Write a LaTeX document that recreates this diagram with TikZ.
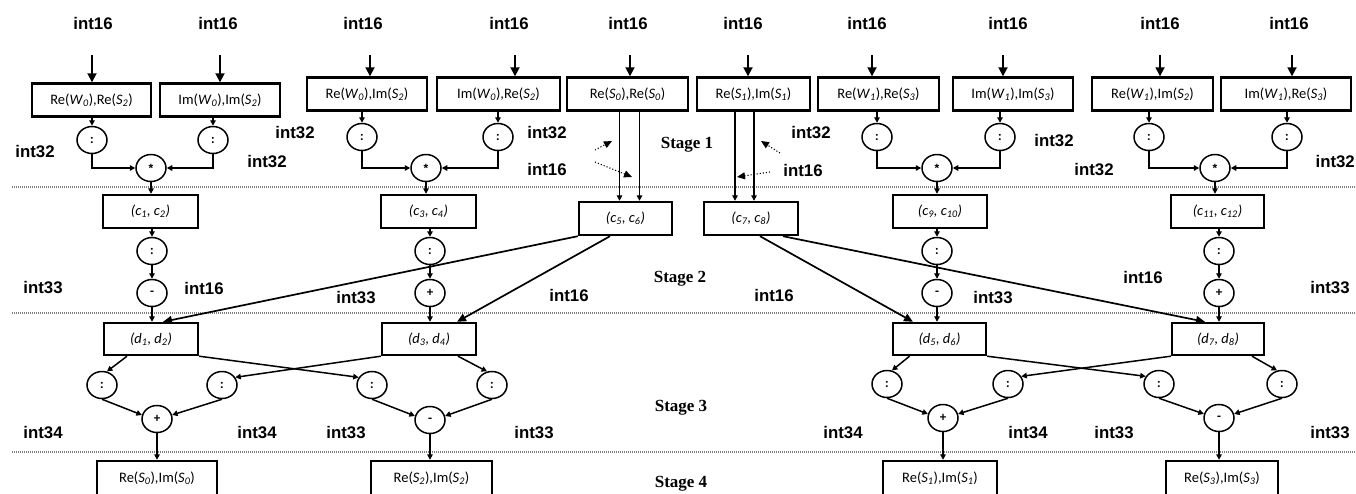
\documentclass[tikz,border=0pt]{standalone}
\usepackage{fontspec}
\setmainfont{Carlito}
\newfontfamily\labfont{Liberation Sans}
\newfontfamily\stagefont{Liberation Serif}
\usetikzlibrary{arrows.meta,shapes.geometric}
\newcommand\VV[2]{\textit{#1}\textsubscript{\textit{#2}}}
\newcommand\CC[2]{\textit{(#1, #2)}}
\newcommand\mulsym{{\labfont\bfseries\fontsize{12}{12}\selectfont\raisebox{-0.28em}{*}}}
\tikzset{
 lbl/.style={font=\labfont\bfseries\fontsize{16.8}{18}\selectfont, inner sep=0},
 stg/.style={font=\stagefont\bfseries\fontsize{17}{19}\selectfont, inner sep=0},
 bx/.style={draw, line width=2.4pt, minimum height=33pt, inner sep=0, font=\fontsize{14.5}{16}\selectfont},
 opn/.style={draw, ellipse, line width=1.5pt, minimum width=30pt, minimum height=27pt, inner sep=0, font=\bfseries\fontsize{13}{14}\selectfont},
 arr/.style={line width=1.5pt, -{Triangle[length=5.5pt,width=5.5pt]}},
 toparr/.style={line width=1.8pt, -{Triangle[length=9pt,width=9pt]}},
 bigarr/.style={line width=1.7pt, -{Triangle[length=9pt,width=8pt]}},
 dotarr/.style={line width=1.1pt, dotted, -{Triangle[length=8pt,width=7pt]}},
 sepline/.style={gray, line width=1.3pt, dash pattern=on 1pt off 1pt},
}
\begin{document}
\begin{tikzpicture}[x=1pt,y=-1pt]
\fill[white] (0,0) rectangle (1356,493);
\useasboundingbox (0,0) rectangle (1356,493);

% separators
\draw[sepline] (12,187) -- (1356,187);
\draw[sepline] (12,313) -- (1356,313);
\draw[sepline] (12,452) -- (1356,452);

% top labels
\foreach \x/\n in {93/1,218/2,363/3,509/4,628/5,743/6,867/7,1008/8,1160/9,1289/10}
  \node[lbl] (t\n) at (\x,23) {int16};

% top boxes
\node[bx, minimum width=119pt] (b1) at (91.5,100) {Re(\VV{W}{0}),Re(\VV{S}{2})};
\node[bx, minimum width=120pt] (b2) at (220,100) {Im(\VV{W}{0}),Im(\VV{S}{2})};
\node[bx, minimum width=120pt] (b3) at (367,94) {Re(\VV{W}{0}),Im(\VV{S}{2})};
\node[bx, minimum width=123pt] (b4) at (498.5,94) {Im(\VV{W}{0}),Re(\VV{S}{2})};
\node[bx, minimum width=121pt] (b5) at (627.5,94) {Re(\VV{S}{0}),Re(\VV{S}{0})};
\node[bx, minimum width=113pt] (b6) at (753.5,94) {Re(\VV{S}{1}),Im(\VV{S}{1})};
\node[bx, minimum width=121pt] (b7) at (878.5,94) {Re(\VV{W}{1}),Re(\VV{S}{3})};
\node[bx, minimum width=120pt] (b8) at (1013,94) {Im(\VV{W}{1}),Im(\VV{S}{3})};
\node[bx, minimum width=121pt] (b9) at (1152.5,94) {Re(\VV{W}{1}),Im(\VV{S}{2})};
\node[bx, minimum width=130pt] (b10) at (1286,94) {Im(\VV{W}{1}),Re(\VV{S}{3})};

% top arrows
\foreach \x/\n in {92/1,220/2,370/3,515/4,630/5,748/6,872/7,1003/8,1160/9,1292/10}{
  \coordinate (a\n) at (\x,55);
  \draw[toparr] (a\n) -- (a\n |- b\n.north);
}

% stage 1 circles
\node[opn] (s1a) at (92,140) {:};
\node[opn] (s1b) at (213,140) {:};
\node[opn] (m1) at (151,168) {\mulsym};
\node[opn] (s1c) at (362,137) {:};
\node[opn] (s1d) at (498,137) {:};
\node[opn] (m2) at (426,168) {\mulsym};
\node[opn] (s1e) at (877,137) {:};
\node[opn] (s1f) at (1000,137) {:};
\node[opn] (m3) at (937,168) {\mulsym};
\node[opn] (s1g) at (1149,137) {:};
\node[opn] (s1h) at (1287,137) {:};
\node[opn] (m4) at (1215,168) {\mulsym};

\draw[arr] (s1a.north |- b1.south) -- (s1a.north);
\draw[arr] (s1b.north |- b2.south) -- (s1b.north);
\draw[arr] (s1c.north |- b3.south) -- (s1c.north);
\draw[arr] (s1d.north |- b4.south) -- (s1d.north);
\draw[arr] (s1e.north |- b7.south) -- (s1e.north);
\draw[arr] (s1f.north |- b8.south) -- (s1f.north);
\draw[arr] (s1g.north |- b9.south) -- (s1g.north);
\draw[arr] (s1h.north |- b10.south) -- (s1h.north);

\draw[arr] (s1a.south) |- (m1.west);
\draw[arr] (s1b.south) |- (m1.east);
\draw[arr] (s1c.south) |- (m2.west);
\draw[arr] (s1d.south) |- (m2.east);
\draw[arr] (s1e.south) |- (m3.west);
\draw[arr] (s1f.south) |- (m3.east);
\draw[arr] (s1g.south) |- (m4.west);
\draw[arr] (s1h.south) |- (m4.east);

% c boxes
\node[bx, minimum width=95pt] (c12) at (150.5,211.5) {\CC{c\textsubscript{1}}{c\textsubscript{2}}};
\node[bx, minimum width=95pt] (c34) at (428.5,211.5) {\CC{c\textsubscript{3}}{c\textsubscript{4}}};
\node[bx, minimum width=93pt] (c56) at (625.5,218.5) {\CC{c\textsubscript{5}}{c\textsubscript{6}}};
\node[bx, minimum width=94pt] (c78) at (751,218.5) {\CC{c\textsubscript{7}}{c\textsubscript{8}}};
\node[bx, minimum width=94pt] (c910) at (940,211.5) {\CC{c\textsubscript{9}}{c\textsubscript{10}}};
\node[bx, minimum width=93pt] (c1112) at (1217.5,211.5) {\CC{c\textsubscript{11}}{c\textsubscript{12}}};

\draw[arr] (m1.south) -- (m1.south |- c12.north);
\draw[arr] (m2.south) -- (m2.south |- c34.north);
\draw[arr] (m3.south) -- (m3.south |- c910.north);
\draw[arr] (m4.south) -- (m4.south |- c1112.north);

\draw[arr] ([xshift=-8pt]b5.south) -- ([xshift=-8pt]b5.south |- c56.north);
\draw[arr] ([xshift=12pt]b5.south) -- ([xshift=12pt]b5.south |- c56.north);
\draw[arr] ([xshift=-18.5pt]b6.south) -- ([xshift=-18.5pt]b6.south |- c78.north);
\draw[arr] ([xshift=0.5pt]b6.south) -- ([xshift=0.5pt]b6.south |- c78.north);

% stage 2 circles
\node[opn] (s2a) at (152,251) {:};
\node[opn] (o2a) at (152,293) {-};
\node[opn] (s2b) at (430,251) {:};
\node[opn] (o2b) at (430,293) {+};
\node[opn] (s2c) at (937,251) {:};
\node[opn] (o2c) at (937,293) {-};
\node[opn] (s2d) at (1219,251) {:};
\node[opn] (o2d) at (1219,293) {+};

\draw[arr] (s2a.north |- c12.south) -- (s2a.north);
\draw[arr] (s2b.north |- c34.south) -- (s2b.north);
\draw[arr] (s2c.north |- c910.south) -- (s2c.north);
\draw[arr] (s2d.north |- c1112.south) -- (s2d.north);
\draw[arr] (s2a) -- (o2a);
\draw[arr] (s2b) -- (o2b);
\draw[arr] (s2c) -- (o2c);
\draw[arr] (s2d) -- (o2d);

% d boxes
\node[bx, minimum width=94pt, minimum height=32pt] (d12) at (151,339) {\CC{d\textsubscript{1}}{d\textsubscript{2}}};
\node[bx, minimum width=94pt, minimum height=32pt] (d34) at (429,339) {\CC{d\textsubscript{3}}{d\textsubscript{4}}};
\node[bx, minimum width=93pt, minimum height=32pt] (d56) at (939.5,339) {\CC{d\textsubscript{5}}{d\textsubscript{6}}};
\node[bx, minimum width=92pt, minimum height=32pt] (d78) at (1218,339) {\CC{d\textsubscript{7}}{d\textsubscript{8}}};

\draw[arr] (o2a.south) -- (o2a.south |- d12.north);
\draw[arr] (o2b.south) -- (o2b.south |- d34.north);
\draw[arr] (o2c.south) -- (o2c.south |- d56.north);
\draw[arr] (o2d.south) -- (o2d.south |- d78.north);

\draw[bigarr] (c56.south west) -- ([xshift=12pt]d12.north);
\draw[bigarr] ([xshift=-15.5pt]c56.south) -- ([xshift=28pt]d34.north);
\draw[bigarr] ([xshift=9pt]c78.south) -- ([xshift=-26.5pt]d56.north);
\draw[bigarr] ([xshift=32pt]c78.south) -- ([xshift=-13pt]d78.north);

% stage 3 circles
\node[opn] (s3a) at (102,385) {:};
\node[opn] (s3b) at (222,385) {:};
\node[opn] (s3c) at (372,385) {:};
\node[opn] (s3d) at (492,385) {:};
\node[opn] (p3a) at (157,419) {+};
\node[opn] (p3b) at (430,420) {-};
\node[opn] (s3e) at (887,384) {:};
\node[opn] (s3f) at (1008,384) {:};
\node[opn] (s3g) at (1159,384) {:};
\node[opn] (s3h) at (1282,384) {:};
\node[opn] (p3c) at (943,418) {+};
\node[opn] (p3d) at (1219,418) {-};

\draw[arr] ([xshift=-24pt]d12.south) -- (s3a.70);
\draw[arr] (d12.south east) -- (s3c.150);
\draw[arr] (d34.south west) -- (s3b.30);
\draw[arr] ([xshift=29pt]d34.south) -- (s3d.110);
\draw[arr] ([xshift=-30pt]d56.south) -- (s3e.70);
\draw[arr] (d56.south east) -- (s3g.150);
\draw[arr] (d78.south west) -- (s3f.30);
\draw[arr] ([xshift=34pt]d78.south) -- (s3h.110);

\draw[arr] (s3a.south) -- (p3a.165);
\draw[arr] (s3b.south) -- (p3a.15);
\draw[arr] (s3c.south) -- (p3b.165);
\draw[arr] (s3d.south) -- (p3b.15);
\draw[arr] (s3e.south) -- (p3c.165);
\draw[arr] (s3f.south) -- (p3c.15);
\draw[arr] (s3g.south) -- (p3d.165);
\draw[arr] (s3h.south) -- (p3d.15);

% bottom boxes
\node[bx, minimum width=120pt, minimum height=34pt] (e1) at (157,478) {Re(\VV{S}{0}),Im(\VV{S}{0})};
\node[bx, minimum width=121pt, minimum height=34pt] (e2) at (431.5,478) {Re(\VV{S}{2}),Im(\VV{S}{2})};
\node[bx, minimum width=114pt, minimum height=34pt] (e3) at (940,478) {Re(\VV{S}{1}),Im(\VV{S}{1})};
\node[bx, minimum width=112pt, minimum height=34pt] (e4) at (1222,478) {Re(\VV{S}{3}),Im(\VV{S}{3})};

\draw[arr] (p3a.south) -- (p3a.south |- e1.north);
\draw[arr] (p3b.south) -- (p3b.south |- e2.north);
\draw[arr] (p3c.south) -- (p3c.south |- e3.north);
\draw[arr] (p3d.south) -- (p3d.south |- e4.north);

% dotted pointers
\coordinate (q1) at (595,150); \coordinate (q1h) at (612,141);
\coordinate (q2) at (595,162); \coordinate (q2h) at (632,177);
\coordinate (q3) at (780,153); \coordinate (q3h) at (761,141);
\coordinate (q4) at (770,172); \coordinate (q4h) at (737,177);
\draw[dotarr] (q1) -- (q1h);
\draw[dotarr] (q2) -- (q2h);
\draw[dotarr] (q3) -- (q3h);
\draw[dotarr] (q4) -- (q4h);

% stage labels
\node[stg] (st1) at (687,145) {Stage 1};
\node[stg] (st2) at (680,279) {Stage 2};
\node[stg] (st3) at (681,408) {Stage 3};
\node[stg] (st4) at (681,484) {Stage 4};

% width labels stage 1
\node[lbl] (l1) at (35,152) {int32};
\node[lbl] (l2) at (267,162) {int32};
\node[lbl] (l3) at (295,133) {int32};
\node[lbl] (l4) at (547,133) {int32};
\node[lbl] (l5) at (547,169) {int16};
\node[lbl] (l6) at (811,133) {int32};
\node[lbl] (l7) at (803,170) {int16};
\node[lbl] (l8) at (1054,141) {int32};
\node[lbl] (l9) at (1094,170) {int32};
\node[lbl, anchor=east] (l10) at (1355,162) {int32};
% stage 2
\node[lbl] (m21) at (43,288) {int33};
\node[lbl] (m22) at (204,288) {int16};
\node[lbl] (m23) at (356,298) {int33};
\node[lbl] (m24) at (569,295) {int16};
\node[lbl] (m25) at (774,295) {int16};
\node[lbl] (m26) at (993,298) {int33};
\node[lbl] (m27) at (1143,277) {int16};
\node[lbl] (m28) at (1330,288) {int33};
% stage 3
\node[lbl] (n1) at (43,432) {int34};
\node[lbl] (n2) at (257,432) {int34};
\node[lbl] (n3) at (346,432) {int33};
\node[lbl] (n4) at (534,432) {int33};
\node[lbl] (n5) at (843,432) {int34};
\node[lbl] (n6) at (1028,432) {int34};
\node[lbl] (n7) at (1114,432) {int33};
\node[lbl] (n8) at (1330,432) {int33};
\end{tikzpicture}
\end{document}
